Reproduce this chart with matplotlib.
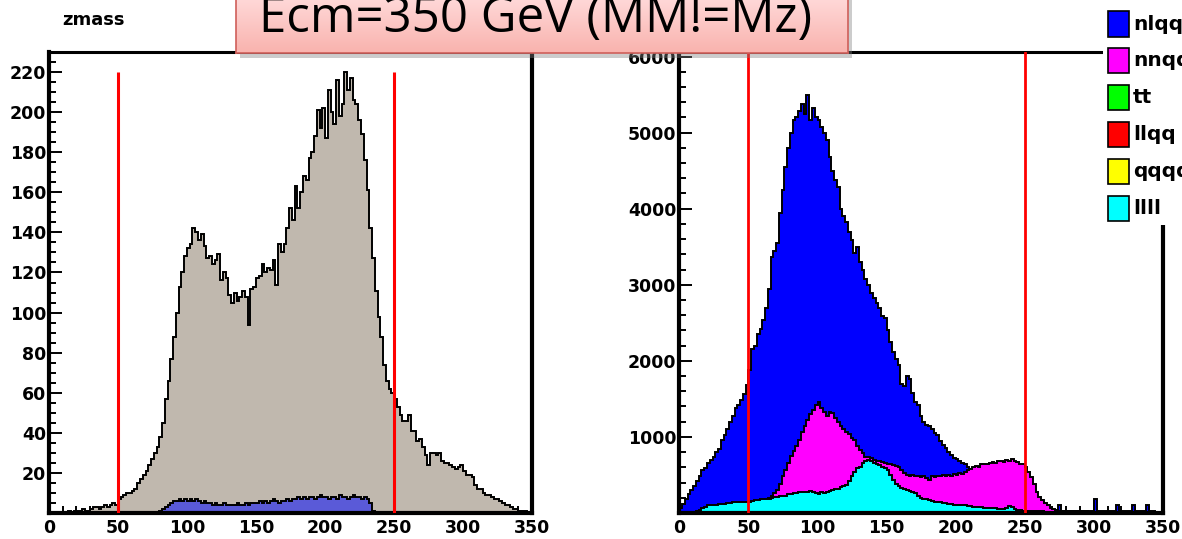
import numpy as np
import matplotlib.pyplot as plt
from matplotlib.patches import Rectangle
from matplotlib.ticker import MultipleLocator
from matplotlib.colors import LinearSegmentedColormap

# histogram binning: 175 bins of 2 GeV from 0 to 350
bin_edges = np.arange(0, 351, 2)

# left pad "zmass": total (grey) and signal (blue)
zmass_all = [
    0, 0, 0, 0, 0, 0, 0, 1, 0, 1, 1, 1, 2, 1, 1, 2, 3, 3, 2, 3, 4, 3, 4, 5, 4,
    7, 8, 9, 10, 10, 11, 12, 15, 17, 19, 21, 24, 27, 30, 33, 38, 45, 57, 66, 77, 88, 100, 113, 120, 128,
    132, 134, 142, 140, 136, 139, 133, 127, 128, 124, 126, 129, 116, 120, 117, 109, 105, 110, 106, 108, 111, 108, 94, 112, 113,
    117, 118, 124, 120, 122, 121, 126, 114, 134, 130, 134, 142, 152, 146, 163, 152, 160, 168, 166, 177, 180, 188, 201, 192, 202,
    187, 211, 200, 194, 216, 198, 204, 220, 211, 217, 206, 204, 196, 189, 176, 161, 142, 127, 111, 98, 88, 74, 66, 62, 60,
    57, 53, 49, 46, 46, 49, 41, 41, 36, 37, 33, 29, 24, 30, 30, 29, 30, 26, 25, 25, 24, 23, 22, 23, 24,
    21, 19, 19, 18, 14, 12, 12, 10, 9, 9, 8, 7, 7, 6, 5, 4, 4, 3, 2, 2, 1, 1, 1, 0, 0,
]
zmass_sig = [
    0] * 25 + [
    0, 0, 0, 0, 0, 0, 0, 0, 0, 0, 0, 0, 0, 0, 0, 1, 2, 3, 4, 5, 6, 6, 7, 6, 7,
    6, 7, 6, 7, 6, 5, 6, 5, 5, 4, 5, 4, 4, 5, 4, 4, 4, 4, 5, 4, 4, 5, 4, 5, 5,
    5, 6, 5, 6, 5, 6, 7, 6, 5, 6, 6, 7, 6, 7, 7, 8, 7, 8, 7, 8, 8, 7, 8, 9, 8,
    8, 7, 8, 8, 7, 9, 8, 8, 7, 8, 9, 8, 8, 7, 8, 7, 5, 1, 0, 0, 0, 0, 0, 0, 0,
] + [0] * 50

# right pad: visible heights of each sample
nlqq = [
    60, 120, 180, 250, 300, 360, 420, 480, 560, 590, 660, 700, 740, 800, 840, 960, 1020, 1100, 1190, 1270, 1380, 1420, 1480, 1560, 1680,
    1880, 2150, 2200, 2350, 2420, 2540, 2700, 2950, 3370, 3450, 3550, 3950, 4250, 4550, 4800, 5000, 5160, 5200, 5280, 5380, 5250, 5500, 5160, 5330, 5200,
    5160, 5070, 5000, 4900, 4680, 4500, 4380, 4280, 4000, 3900, 3830, 3700, 3590, 3420, 3500, 3300, 3200, 3070, 3000, 2890, 2820, 2760, 2700, 2590, 2560,
    2400, 2250, 2110, 2020, 1950, 1700, 1670, 1800, 1760, 1580, 1460, 1420, 1280, 1200, 1160, 1140, 1100, 1050, 1020, 950, 900, 850, 800, 760, 720,
    710, 680, 660, 640, 610, 575, 550, 520, 490, 460, 430, 410, 390, 360, 340, 320, 300, 280, 260, 240, 220, 200, 180, 160, 140,
    110, 90, 80, 70, 60, 50, 40, 40, 30, 30, 30, 40, 100, 30, 30, 20, 30, 20, 30, 20, 20, 30, 20, 20, 20,
    190, 20, 20, 20, 20, 20, 20, 20, 100, 20, 20, 20, 20, 20, 100, 20, 20, 20, 20, 100, 20, 20, 10, 10, 10,
]
nnqq = [0] * 25 + [
    0, 0, 0, 0, 0, 0, 0, 200, 230, 260, 300, 380, 480, 570, 660, 750, 820, 880, 960, 1060, 1150, 1220, 1300, 1360, 1420,
    1460, 1380, 1330, 1280, 1330, 1320, 1250, 1190, 1150, 1100, 1060, 1040, 990, 960, 880, 830, 790, 740, 730, 720, 700, 690, 680, 670, 660,
    650, 640, 630, 620, 600, 560, 530, 500, 490, 500, 480, 490, 470, 480, 460, 440, 480, 470, 490, 480, 500, 480, 500, 490, 510,
    500, 520, 510, 540, 560, 580, 600, 620, 610, 640, 650, 640, 660, 670, 660, 680, 690, 670, 700, 690, 710, 680, 670, 640, 650,
    600, 540, 470, 380, 280, 210, 170, 130, 100, 70, 50, 40, 30, 30, 30, 20, 20, 30, 20, 20, 20, 10, 20, 10, 10,
    10, 10, 10, 0, 10, 10, 0, 10, 0, 10, 0, 0, 10, 0, 0, 0, 0, 0, 0, 0, 0, 0, 0, 0, 0,
]
llll = [
    0, 0, 0, 0, 0, 0, 20, 40, 60, 80, 100, 100, 110, 110, 120, 120, 120, 130, 130, 140, 140, 140, 150, 150, 150,
    150, 160, 170, 170, 180, 180, 190, 190, 200, 210, 210, 220, 220, 230, 250, 250, 260, 260, 270, 280, 270, 280, 290, 270, 260,
    250, 270, 260, 280, 290, 300, 310, 320, 340, 350, 370, 420, 480, 540, 590, 610, 660, 690, 700, 680, 660, 640, 625, 610, 590,
    560, 500, 440, 380, 350, 330, 310, 300, 290, 280, 260, 230, 200, 190, 180, 170, 160, 150, 140, 140, 130, 125, 120, 115, 110,
    105, 100, 100, 100, 95, 90, 85, 80, 80, 75, 70, 70, 65, 60, 60, 55, 50, 50, 60, 90, 80, 50, 40, 40, 30,
    30, 30, 25, 25, 20, 20, 20, 15, 15, 10, 10, 10, 5, 5, 5, 5, 5, 0, 0, 0, 0, 0, 0, 0, 0,
] + [0] * 25

legend_labels = ["nlqq", "nnqq", "tt", "llqq", "qqqq", "llll"]
legend_colors = ["#0000FF", "#FF00FF", "#00FF00", "#FF0000", "#FFFF00", "#00FFFF"]
cuts = [50, 250]
title = "Ecm=350 GeV (MM!=Mz)"

plt.rcParams['font.family'] = 'DejaVu Sans'
plt.rcParams['font.weight'] = 'bold'

W, H = 1182, 539
fig = plt.figure(figsize=(W / 100, H / 100), dpi=100)


def px(x0, y0, x1, y1):
    # pixel box measured from the top-left corner -> figure fraction rect
    return [x0 / W, 1 - y1 / H, (x1 - x0) / W, (y1 - y0) / H]


def hist(ax, vals, color):
    ax.stairs(vals, bin_edges, fill=True, facecolor=color, linewidth=0)
    ax.stairs(vals, bin_edges, color='black', linewidth=1.4)


def style(ax, ymax, ystep, yminor):
    ax.set_xlim(0, 350)
    ax.set_ylim(0, ymax)
    ax.set_xticks(np.arange(0, 351, 50))
    ax.xaxis.set_minor_locator(MultipleLocator(10))
    ax.set_yticks(np.arange(ystep, ymax, ystep))
    ax.yaxis.set_minor_locator(MultipleLocator(yminor))
    ax.set_axisbelow(True)
    ax.tick_params(which='both', direction='in', width=1.4, labelsize=12.5,
                   top=False, right=False)
    ax.tick_params(which='major', length=9.5)
    ax.tick_params(which='minor', length=5)
    ax.tick_params(axis='y', pad=2)
    ax.tick_params(axis='x', pad=4)
    for s in ax.spines.values():
        s.set_linewidth(3)
    ax.spines['top'].set_linewidth(2.2)


ax1 = fig.add_axes(px(48.8, 52, 532.3, 513))
hist(ax1, zmass_all, "#C0B8AE")
hist(ax1, zmass_sig, "#5A5AD8")
ax1.vlines(cuts, 0, 220, color='red', linewidth=2.2, zorder=3)
style(ax1, 230, 20, 5)

ax2 = fig.add_axes(px(679.4, 52, 1162.8, 513))
hist(ax2, nlqq, legend_colors[0])
hist(ax2, nnqq, legend_colors[1])
hist(ax2, llll, legend_colors[5])
for c in cuts:
    ax2.axvline(c, color='red', linewidth=2, zorder=3)
style(ax2, 6060, 1000, 200)

fig.text(62 / W, 1 - 20 / H, "zmass", fontsize=13, fontweight='bold', va='center')

# legend box (white, covers the top right corner of the frame)
fig.add_artist(Rectangle((1103 / W, 1 - 225 / H), 1, 1, transform=fig.transFigure,
                         facecolor='white', edgecolor='none', zorder=10))
for i, (lab, col) in enumerate(zip(legend_labels, legend_colors)):
    yc = 24 + i * 36.8
    fig.add_artist(Rectangle((1108 / W, 1 - (yc + 12.5) / H), 21 / W, 25 / H,
                             transform=fig.transFigure, facecolor=col,
                             edgecolor='black', linewidth=1.2, zorder=11))
    fig.text(1133 / W, 1 - yc / H, lab, fontsize=14.5, fontweight='bold',
             va='center', zorder=12)

# title box with drop shadow
fig.add_artist(Rectangle((240 / W, 1 - 58 / H), 612 / W, 0.2, transform=fig.transFigure,
                         facecolor='#808080', alpha=0.4, edgecolor='none', zorder=19))
bax = fig.add_axes(px(236, -3, 848, 52.7), zorder=20)
cmap = LinearSegmentedColormap.from_list("pink", ["#FFD9D9", "#F9B3AE"])
bax.imshow(np.linspace(0, 1, 64).reshape(-1, 1), aspect='auto', cmap=cmap,
           extent=[0, 1, 0, 1])
bax.set_xticks([])
bax.set_yticks([])
for s in bax.spines.values():
    s.set_color('#CF5F5A')
    s.set_linewidth(1.2)
fig.text(259 / W, 1 - 32 / H, title, fontsize=35.5, family='Open Sans',
         fontweight='normal', va='baseline', zorder=21)

fig.savefig('out.png', dpi=100)
